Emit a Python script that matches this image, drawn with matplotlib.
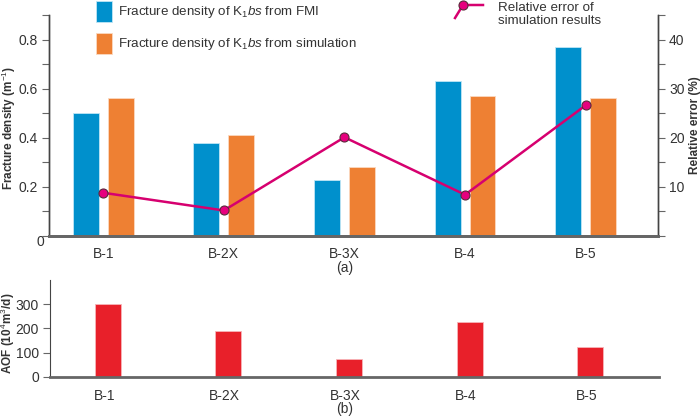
import matplotlib
matplotlib.use("Agg")
import matplotlib.pyplot as plt
from matplotlib.patches import Rectangle
from matplotlib.lines import Line2D
from matplotlib.ticker import MultipleLocator
import numpy as np

plt.rcParams["font.family"] = ["Liberation Sans", "DejaVu Sans"]
plt.rcParams["mathtext.fontset"] = "custom"
plt.rcParams["mathtext.rm"] = "Liberation Sans"
plt.rcParams["mathtext.it"] = "Liberation Sans:italic"
plt.rcParams["mathtext.bf"] = "Liberation Sans:bold"

wells = ["B-1", "B-2X", "B-3X", "B-4", "B-5"]
density_fmi = [0.50, 0.38, 0.23, 0.63, 0.77]
density_sim = [0.56, 0.41, 0.28, 0.57, 0.56]
rel_error = [8.8, 5.2, 20.1, 8.4, 26.6]
aof = [300, 190, 74, 228, 123]

BLUE = "#0090cc"
ORANGE = "#ee8033"
RED = "#e8202a"
PINK = "#d6006f"
GREY = "#666666"
TXT = "#333333"

W, H = 700, 416
x = np.arange(len(wells))

fig = plt.figure(figsize=(7, 4.16), dpi=100)
ax = fig.add_axes([0.070, 0.4327, 0.870, 0.5313])
ax2 = ax.twinx()
axb = fig.add_axes([0.0714, 0.0938, 0.870, 0.2338])

# (a) fracture density bars + relative error line
ax.bar(x - 0.145, density_fmi, width=0.215, color=BLUE, edgecolor="#bfe6f5", linewidth=0.6)
ax.bar(x + 0.145, density_sim, width=0.215, color=ORANGE, edgecolor="#fbd9c0", linewidth=0.6)
ax.set_xlim(-0.45, 4.6)
ax.set_ylim(0, 0.9)
ax.yaxis.set_minor_locator(MultipleLocator(0.1))
ax.set_yticks([0.2, 0.4, 0.6, 0.8])
ax.set_yticklabels(["0.2", "0.4", "0.6", "0.8"])
ax.tick_params(axis="y", which="both", length=5, width=0.8, color=GREY, labelsize=10, labelcolor=TXT, pad=3)
ax.set_xticks(x)
ax.set_xticklabels(wells)
ax.tick_params(axis="x", length=0, labelsize=10, labelcolor=TXT, pad=8)
ax.set_ylabel("Fracture density (m$^{-1}$)", fontsize=8.5, fontweight="bold", color=TXT, va="center")
ax.yaxis.set_label_coords(-0.066, 0.49)

ax2.plot(x, rel_error, color=PINK, linewidth=1.8, marker="o", markersize=6.5,
         markerfacecolor="#e6007e", markeredgecolor="#5a2a3a", markeredgewidth=0.8, zorder=5)
ax2.set_ylim(0, 45)
ax2.yaxis.set_minor_locator(MultipleLocator(5))
ax2.set_yticks([10, 20, 30, 40])
ax2.tick_params(axis="y", which="both", length=5, width=0.8, color=GREY, labelsize=10, labelcolor=TXT, pad=3)
ax2.set_ylabel("Relative error (%)", fontsize=8.5, fontweight="bold", color=TXT, va="center")
ax2.yaxis.set_label_coords(1.061, 0.5)

for a in (ax, ax2):
    a.spines["top"].set_visible(False)
    a.spines["left"].set_color("#444444")
    a.spines["right"].set_color("#444444")
    a.spines["left"].set_linewidth(1.0)
    a.spines["right"].set_linewidth(1.0)
    a.spines["bottom"].set_color(GREY)
    a.spines["bottom"].set_linewidth(2.0)
ax2.set_zorder(ax.get_zorder() + 1)
ax2.patch.set_visible(False)

fig.text(0.057, 0.418, "0", ha="center", va="center", fontsize=10, color=TXT)
fig.text(0.492, 1 - 268 / H, "(a)", ha="center", va="center", fontsize=10, color=TXT)

# legend for bars (drawn in figure pixels)
legend_items = [(BLUE, "#bfe6f5", 1, "Fracture density of K$_1$$bs$ from FMI"),
                (ORANGE, "#fbd9c0", 33, "Fracture density of K$_1$$bs$ from simulation")]
for fc, ec, top, label in legend_items:
    fig.add_artist(Rectangle((96 / W, 1 - (top + 21) / H), 16 / W, 21 / H, transform=fig.transFigure,
                             facecolor=fc, edgecolor=ec, linewidth=0.6))
    fig.text(118 / W, 1 - (top + 11) / H, label, ha="left", va="center", fontsize=9.6, color=TXT)

# legend for line (bent icon)
fig.add_artist(Line2D([455 / W, 463 / W, 483 / W], [1 - 18 / H, 1 - 5 / H, 1 - 5 / H],
                      transform=fig.transFigure, color=PINK, linewidth=1.8))
fig.add_artist(Line2D([463 / W], [1 - 5 / H], transform=fig.transFigure, marker="o",
                      markersize=6.5, markerfacecolor="#e6007e", markeredgecolor="#5a2a3a",
                      markeredgewidth=0.8, linestyle="none"))
fig.text(498 / W, 1 - 14.5 / H, "Relative error of\nsimulation results", ha="left", va="center",
         fontsize=9.6, color=TXT, linespacing=1.2)

# (b) AOF bars
axb.bar(x + 0.03, aof, width=0.215, color=RED, edgecolor="#f7b5b8", linewidth=0.6)
axb.set_xlim(-0.45, 4.6)
axb.set_ylim(0, 400)
axb.set_yticks([0, 100, 200, 300])
axb.tick_params(axis="y", length=5, width=0.8, color=GREY, labelsize=10, labelcolor=TXT, pad=3)
axb.set_xticks(x)
axb.set_xticklabels(wells)
axb.tick_params(axis="x", length=0, labelsize=10, labelcolor=TXT, pad=9)
axb.set_ylabel("AOF (10$^4$m$^3$/d)", fontsize=8.5, fontweight="bold", color=TXT, va="center")
axb.yaxis.set_label_coords(-0.069, 0.45)
axb.spines["top"].set_visible(False)
axb.spines["right"].set_visible(False)
axb.spines["left"].set_color("#444444")
axb.spines["bottom"].set_color(GREY)
axb.spines["bottom"].set_linewidth(2.0)

fig.text(0.492, 1 - 409 / H, "(b)", ha="center", va="center", fontsize=10, color=TXT)

fig.savefig("out.png", dpi=100)
